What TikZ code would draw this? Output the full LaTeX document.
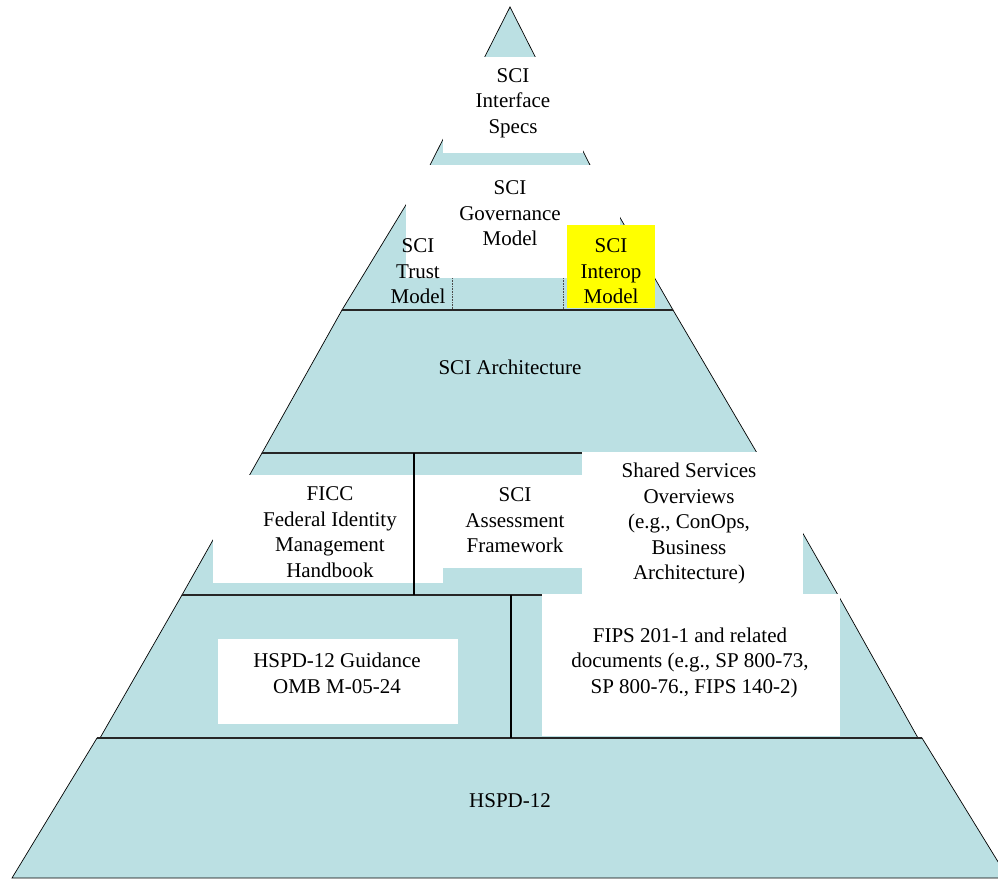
\documentclass[tikz,border=0pt]{standalone}
\usepackage{fontspec}
\setmainfont{Liberation Serif}
\definecolor{pyrblue}{RGB}{187,224,227}
\definecolor{hlyellow}{RGB}{255,255,0}
\begin{document}
\begin{tikzpicture}[x=1pt,y=-1pt,
  layer/.style={fill=pyrblue, draw=black, line width=0.7pt, line join=miter},
  sepline/.style={line width=1.6pt, draw=black!85},
  divline/.style={line width=1.1pt, draw=black},
  dotline/.style={line width=0.6pt, draw=black!70, densely dotted},
  wbox/.style={fill=white, draw=none},
  ybox/.style={fill=hlyellow, draw=none},
  lbl/.style={align=center, font=\fontsize{21}{25.5}\selectfont, inner sep=0pt},
]
\useasboundingbox (0,0) rectangle (998,878);
\clip (0,0) rectangle (998,878);

% pyramid layers
\path[layer] (510,7) -- (591,167) -- (429,167) -- cycle;
\path[layer] (429,167) -- (591,167) -- (673,310) -- (342,310) -- cycle;
\path[layer] (342,310) -- (673,310) -- (757,453) -- (262,453) -- cycle;
\path[layer] (262,453) -- (757,453) -- (838,595) -- (182,595) -- cycle;
\path[layer] (182,595) -- (838,595) -- (918,738) -- (100,738) -- cycle;
\path[layer] (97,738) -- (922,738) -- (1008,878) -- (12,878) -- cycle;

% layer boundaries
\draw[sepline] (342,310) -- (673,310);
\draw[sepline] (262,453) -- (757,453);
\draw[sepline] (182,595) -- (838,595);
\draw[sepline] (97,738) -- (922,738);

% white text boxes
\path[wbox] (443,57) rectangle (583,153);
\path[wbox] (406,165) rectangle (620,278);
\path[ybox] (567,225) rectangle (655,308);
\path[wbox] (213,475) rectangle (443,583);
\path[wbox] (443,475) rectangle (582,568);
\path[wbox] (582,452) rectangle (803,597);
\path[wbox] (218,639) rectangle (458,724);
\path[wbox] (542,594) rectangle (840,736);

% box borders and dividers
\draw[dotline] (452,278) -- (452,310);
\draw[dotline] (563,278) -- (563,310);
\draw[divline] (414,453) -- (414,595);
\draw[divline] (511,595) -- (511,738);

% labels
\node[lbl] (iface) at (513,103) {SCI\\Interface\\Specs};
\node[lbl] (gov) at (510,213.5) {SCI\\Governance\\Model};
\node[lbl] (trust) at (418,271.5) {SCI\\Trust\\Model};
\node[lbl] (interop) at (611,271.5) {SCI\\Interop\\Model};
\node[lbl] (arch) at (510,367) {SCI Architecture};
\node[lbl] (ficc) at (330,532) {FICC\\Federal Identity\\Management\\Handbook};
\node[lbl] (assess) at (515,520.5) {SCI\\Assessment\\Framework};
\node[lbl] (shared) at (689,523.5) {Shared Services\\Overviews\\(e.g., ConOps,\\Business\\Architecture)};
\node[lbl] (guid) at (337,673.5) {HSPD-12 Guidance\\OMB M-05-24};
\node[lbl] (fips) at (690,662.5) {FIPS 201-1 and related\\documents (e.g., SP 800-73,\\\hspace{0.4em}SP 800-76., FIPS 140-2)};
\node[lbl] (hspd) at (510,801) {HSPD-12};
\end{tikzpicture}
\end{document}
